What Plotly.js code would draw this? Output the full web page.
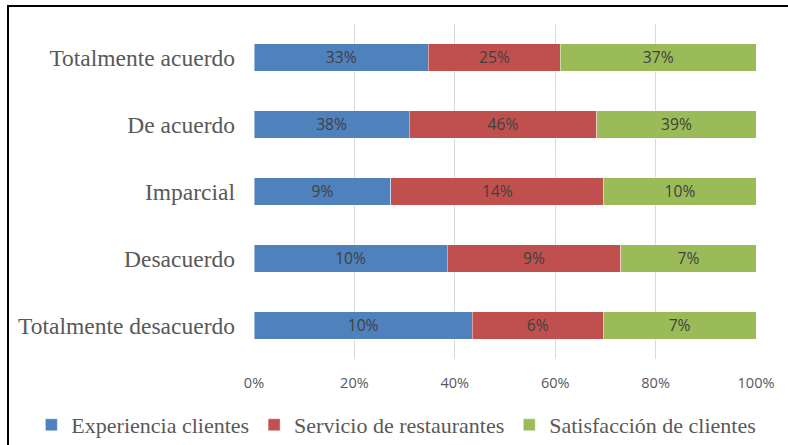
<!DOCTYPE html>
<html>
<head>
<meta charset="utf-8">
<script src="https://cdn.plot.ly/plotly-3.0.1.min.js"></script>
<style>
html,body{margin:0;padding:0;overflow:hidden;background:#fff;}
#frame{position:absolute;left:7px;top:5px;width:900px;height:600px;border:2px solid #000;pointer-events:none;}
#chart{position:absolute;left:0;top:0;width:788px;height:445px;}
</style>
</head>
<body>
<div id="chart"></div>
<div id="frame"></div>
<script>
const categories = ["Totalmente acuerdo", "De acuerdo", "Imparcial", "Desacuerdo", "Totalmente desacuerdo"];
const experiencia = [33, 38, 9, 10, 10];
const servicio = [25, 46, 14, 9, 6];
const satisfaccion = [37, 39, 10, 7, 7];
const seriesNames = ["Experiencia clientes", "Servicio de restaurantes", "Satisfacción de clientes"];
const colors = ["#4F81BD", "#C0504D", "#9BBB59"];

const seriesVals = [experiencia, servicio, satisfaccion];
const traces = seriesVals.map((vals, i) => ({
  type: "bar",
  orientation: "h",
  name: seriesNames[i],
  y: categories,
  x: vals,
  text: vals.map(v => v + "%"),
  textposition: "inside",
  insidetextanchor: "middle",
  textangle: 0,
  textfont: {family: "Open Sans, Liberation Sans, sans-serif", size: 16, color: "#404040"},
  marker: {color: colors[i], line: {color: "rgba(255,255,255,0.45)", width: 1}},
  hoverinfo: "skip"
}));

const layout = {
  width: 788, height: 445,
  margin: {l: 6, r: 6, t: 24, b: 86},
  barmode: "stack",
  barnorm: "percent",
  bargap: 0.59,
  paper_bgcolor: "#fff",
  plot_bgcolor: "#fff",
  showlegend: true,
  xaxis: {
    domain: [248/776, 750/776],
    range: [0, 100], dtick: 20, ticksuffix: "%",
    showgrid: true, gridcolor: "#d9d9d9", gridwidth: 1,
    zeroline: false, showline: false,
    tickfont: {family: "Open Sans, Liberation Sans, sans-serif", size: 14.5, color: "#595959"},
    ticks: "", ticklabelstandoff: 13
  },
  yaxis: {
    autorange: "reversed",
    showgrid: false, zeroline: false, showline: false, ticks: "",
    tickfont: {family: "Liberation Serif, Times New Roman, serif", size: 23.5, color: "#595959"},
    ticklabelstandoff: 18
  },
  legend: {
    orientation: "h",
    xref: "container", yref: "container",
    x: 0.503, xanchor: "center", y: 0.045, yanchor: "middle",
    traceorder: "normal",
    font: {family: "Liberation Serif, Times New Roman, serif", size: 22, color: "#595959"},
    itemwidth: 30
  }
};

Plotly.newPlot("chart", traces, layout, {staticPlot: true, displayModeBar: false});
</script>
</body>
</html>
